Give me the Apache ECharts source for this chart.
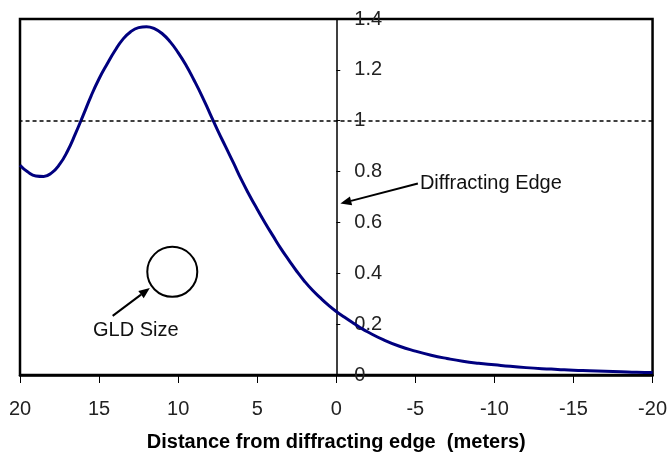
<!DOCTYPE html>
<html>
<head>
<meta charset="utf-8">
<script src="https://cdn.jsdelivr.net/npm/echarts@6/dist/echarts.min.js"></script>
<style>html,body{margin:0;padding:0;background:#fff}#c{width:670px;height:457px}</style>
</head>
<body>
<div id="c"></div>
<script>
// Distance from diffracting edge (meters)
var distance = [20, 19.5, 19, 18.5, 18, 17.5, 17, 16.5, 16, 15.5, 15, 14.5, 14, 13.5, 13, 12.5, 12, 11.5, 11, 10.5, 10, 9.5, 9, 8.5, 8, 7.5, 7, 6.5, 6, 5.5, 5, 4.5, 4, 3.5, 3, 2.5, 2, 1.5, 1, 0.5, 0, -0.5, -1, -1.5, -2, -3, -4, -5, -6, -7, -8, -9, -10, -11, -12, -13, -14, -15, -16, -17, -18, -19, -20];
// Relative intensity
var intensity = [0.825, 0.798, 0.783, 0.781, 0.795, 0.828, 0.880, 0.948, 1.022, 1.098, 1.165, 1.222, 1.275, 1.320, 1.350, 1.366, 1.370, 1.362, 1.342, 1.310, 1.268, 1.218, 1.160, 1.098, 1.030, 0.962, 0.898, 0.834, 0.768, 0.708, 0.652, 0.598, 0.547, 0.497, 0.452, 0.408, 0.368, 0.333, 0.303, 0.275, 0.250, 0.228, 0.207, 0.187, 0.169, 0.138, 0.113, 0.094, 0.078, 0.065, 0.054, 0.046, 0.040, 0.034, 0.029, 0.025, 0.022, 0.019, 0.017, 0.015, 0.013, 0.011, 0.010];
var referenceLevel = 1;
var xTicks = [20, 15, 10, 5, 0, -5, -10, -15, -20];
var yTicks = [0, 0.2, 0.4, 0.6, 0.8, 1, 1.2, 1.4];
var xTitle = 'Distance from diffracting edge  (meters)';
var edgeText = 'Diffracting Edge';
var gldText = 'GLD Size';

var FONT = '"Liberation Sans", Arial, sans-serif';
var chart = echarts.init(document.getElementById('c'), null, {renderer: 'canvas'});

var pts = distance.map(function (d, i) { return [d, intensity[i]]; });

var option = {
  animation: false,
  backgroundColor: '#fff',
  grid: {left: 20, right: 13, top: 19, bottom: 75, show: true, borderColor: '#000', borderWidth: 2.5, backgroundColor: 'transparent'},
  xAxis: {
    type: 'value', min: -20, max: 20, interval: 5, inverse: true,
    name: xTitle, nameLocation: 'middle', nameGap: 57,
    nameTextStyle: {fontFamily: FONT, fontSize: 20, fontWeight: 'bold', color: '#000'},
    axisLine: {onZero: false, lineStyle: {color: '#000', width: 2.5}},
    axisTick: {show: true, length: 8, lineStyle: {color: '#000', width: 1}},
    axisLabel: {fontFamily: FONT, fontSize: 20, color: '#222', margin: 24, customValues: xTicks},
    splitLine: {show: false}
  },
  yAxis: {
    type: 'value', min: 0, max: 1.4, interval: 0.2, offset: 0,
    axisLine: {onZero: false, lineStyle: {color: '#000', width: 1.5}},
    axisTick: {show: true, inside: true, length: 4, lineStyle: {color: '#000', width: 1}},
    axisLabel: {inside: true, fontFamily: FONT, fontSize: 20, color: '#222', margin: 18, customValues: yTicks},
    splitLine: {show: false}
  },
  series: [{
    type: 'line', data: pts, smooth: 0.5, showSymbol: false, symbol: 'none',
    lineStyle: {color: '#00007f', width: 3},
    z: 3,
    markLine: {
      silent: true, symbol: ['none', 'none'], label: {show: false},
      lineStyle: {color: '#000', type: [4, 3], width: 1.5},
      data: [{yAxis: referenceLevel}]
    }
  }]
};
chart.setOption(option);

// place the y axis at distance 0 (through the x scale)
var xZero = chart.convertToPixel({xAxisIndex: 0}, 0);
var xLeft = chart.convertToPixel({xAxisIndex: 0}, 20);
chart.setOption({yAxis: {offset: xLeft - xZero}});

// annotations placed in data space, converted through the grid
function px(p) { return chart.convertToPixel({gridIndex: 0}, p); }
function arrow(tail, tip) {
  var a = px(tail), b = px(tip);
  var dx = b[0] - a[0], dy = b[1] - a[1], L = Math.sqrt(dx * dx + dy * dy);
  var ux = dx / L, uy = dy / L, hl = 11, hw = 4.5;
  var bx = b[0] - ux * hl, by = b[1] - uy * hl;
  return [
    {type: 'line', shape: {x1: a[0], y1: a[1], x2: bx, y2: by}, style: {stroke: '#000', lineWidth: 2}},
    {type: 'polygon', shape: {points: [[b[0], b[1]], [bx - uy * hw, by + ux * hw], [bx + uy * hw, by - ux * hw]]}, style: {fill: '#000'}}
  ];
}
var edgePos = px([-5.29, 0.753]);
var gldPos = px([12.68, 0.1735]);
var circ = px([10.37, 0.406]);
var els = [];
els = els.concat(arrow([-5.16, 0.753], [-0.26, 0.674]));
els = els.concat(arrow([14.14, 0.2326], [11.79, 0.342]));
els.push({type: 'circle', shape: {cx: circ[0], cy: circ[1], r: 25}, style: {fill: 'none', stroke: '#000', lineWidth: 2}});
els.push({type: 'text', x: edgePos[0], y: edgePos[1], style: {text: edgeText, font: '20px ' + FONT, fill: '#111', textAlign: 'left', textVerticalAlign: 'middle'}});
els.push({type: 'text', x: gldPos[0], y: gldPos[1], style: {text: gldText, font: '20px ' + FONT, fill: '#111', textAlign: 'center', textVerticalAlign: 'middle'}});
chart.setOption({graphic: els});
</script>
</body>
</html>
